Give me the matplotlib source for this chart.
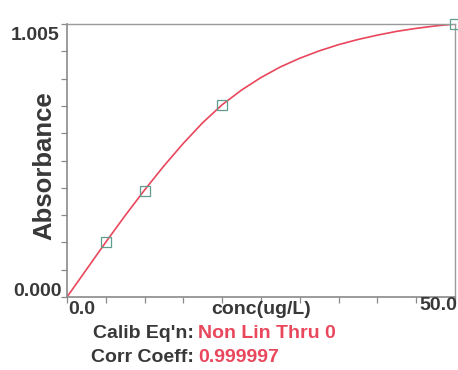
import numpy as np
import matplotlib.pyplot as plt

plt.rcParams['font.family'] = ['Liberation Sans', 'DejaVu Sans']

# calibration standards
conc = [5.0, 10.0, 20.0, 50.0]
absorbance = [0.203, 0.390, 0.707, 1.005]

# calibration curve (step 2.5 ug/L)
curve_conc = [0.0, 2.5, 5.0, 7.5, 10.0, 12.5, 15.0, 17.5, 20.0, 22.5, 25.0,
              27.5, 30.0, 32.5, 35.0, 37.5, 40.0, 42.5, 45.0, 47.5, 50.0]
curve_abs = [0.000, 0.101, 0.202, 0.300, 0.394, 0.483, 0.566, 0.642, 0.708, 0.762, 0.808,
             0.847, 0.879, 0.906, 0.929, 0.948, 0.964, 0.978, 0.989, 0.998, 1.005]

x_min, x_max = 0.0, 50.0
y_min, y_max = 0.000, 1.005
x_tick_labels = ['0.0', '50.0']
y_tick_labels = ['0.000', '1.005']
calib_eq = 'Non Lin Thru 0'
corr_coeff = '0.999997'

text_col = '#383838'
red_col = '#e8475c'
axis_col = '#8a8a8a'

fig = plt.figure(figsize=(4.58, 3.70), dpi=100)
ax = fig.add_axes([67/458, 1 - 297/370, 388/458, 273/370])

ax.plot(curve_conc, curve_abs, color=red_col, lw=1.2, zorder=2,
        solid_joinstyle='round')
ax.plot(conc, absorbance, ls='none', marker='s', ms=7.5, mfc='none',
        mec='#5f9e8f', mew=0.9, zorder=3, clip_on=False)

ax.set_xlim(x_min, x_max)
ax.set_ylim(y_min, y_max)
ax.set_xticks(np.linspace(x_min, x_max, 11))
ax.set_yticks(np.linspace(y_min, y_max, 11))
ax.set_xticklabels([])
ax.set_yticklabels([])
ax.tick_params(axis='both', direction='out', length=4.5, width=0.9, color=axis_col)

for side in ['left', 'bottom']:
    ax.spines[side].set_color(axis_col)
    ax.spines[side].set_linewidth(1.2)
for side in ['top', 'right']:
    ax.spines[side].set_color('#9a9a9a')
    ax.spines[side].set_linewidth(1.0)

tfont = dict(fontsize=14, fontweight='bold', color=text_col, textcoords='offset pixels')
xax = ax.get_xaxis_transform()
yax = ax.get_yaxis_transform()
# подписи делений
ax.annotate(x_tick_labels[0], (x_min, 0), xycoords=xax, xytext=(1, -12.5),
            ha='left', va='center', **tfont)
ax.annotate(x_tick_labels[1], (x_max, 0), xycoords=xax, xytext=(2, -9),
            ha='right', va='center', **tfont)
ax.annotate(y_tick_labels[0], (0, y_min), xycoords=yax, xytext=(-5, 5),
            ha='right', va='center', **tfont)
ax.annotate(y_tick_labels[1], (0, y_max), xycoords=yax, xytext=(-7, -11.5),
            ha='right', va='center', **tfont)
ax.annotate('conc(ug/L)', (0.5, 0), xycoords='axes fraction', xytext=(0, -13),
            ha='center', va='center', **tfont)

fig.text(44/458, 1 - 166/370, 'Absorbance', rotation=90, ha='center', va='center',
         fontsize=18.5, fontweight='bold', color=text_col)

bfont = dict(fontsize=14, fontweight='bold', va='center')
fig.text(194/458, 1 - 333/370, "Calib Eq'n:", ha='right', color=text_col, **bfont)
fig.text(198/458, 1 - 333/370, calib_eq, ha='left', color=red_col, **bfont)
fig.text(194/458, 1 - 357/370, "Corr Coeff:", ha='right', color=text_col, **bfont)
fig.text(198/458, 1 - 357/370, corr_coeff, ha='left', color=red_col, **bfont)

fig.savefig('out.png', dpi=100)
